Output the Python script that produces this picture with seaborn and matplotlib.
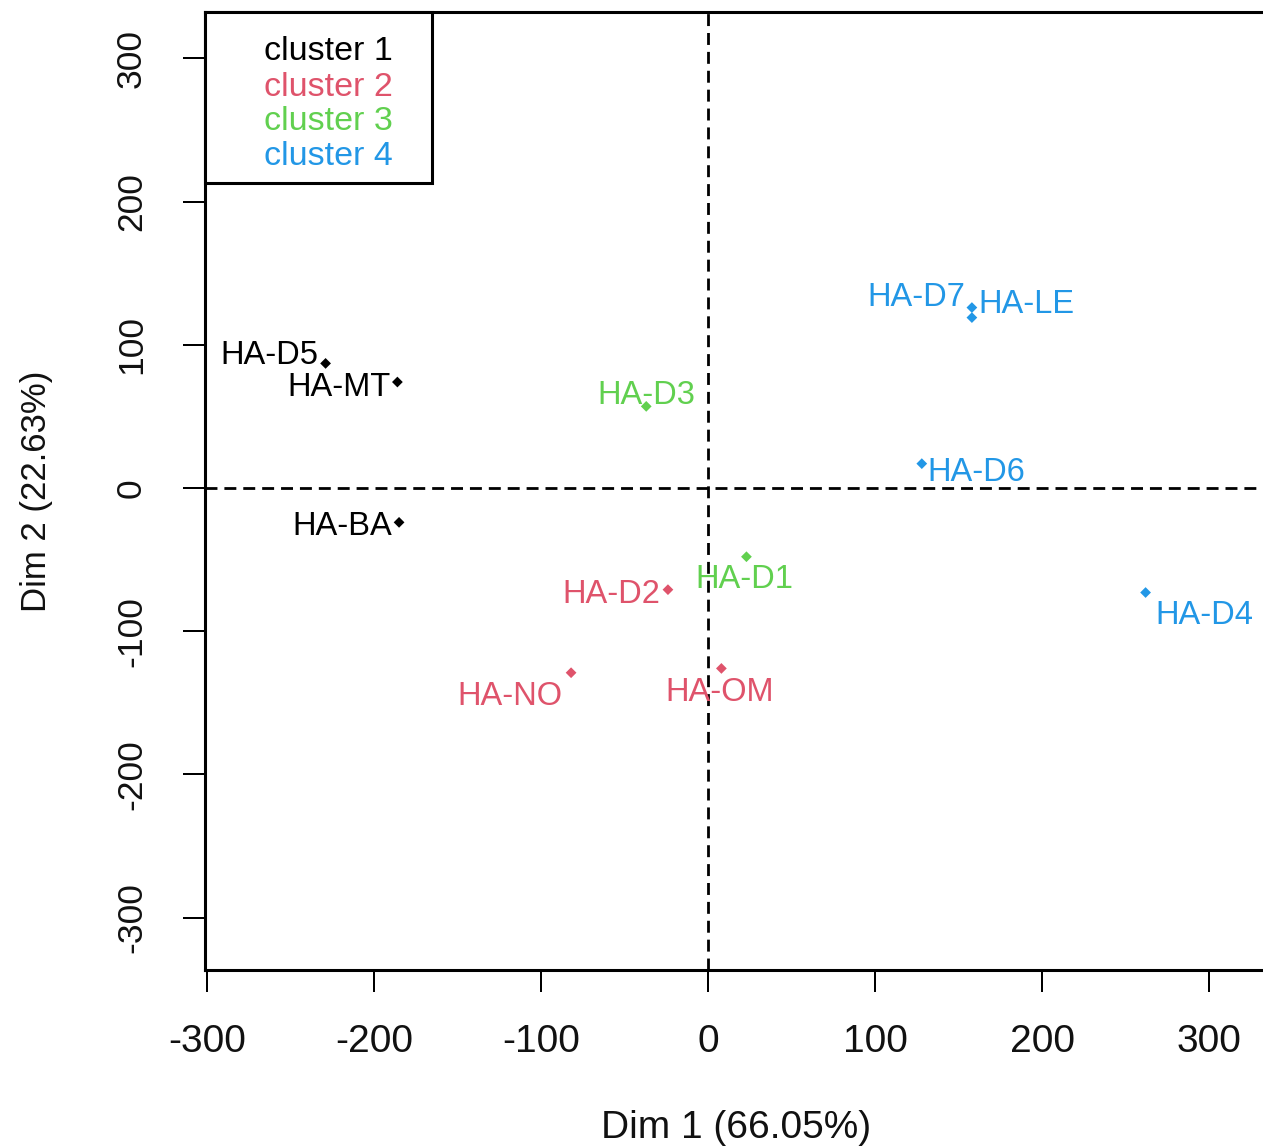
import matplotlib
matplotlib.use("Agg")
import matplotlib.pyplot as plt
import seaborn as sns
import pandas as pd
from matplotlib.patches import Rectangle

# ---- data ----
labels = ["HA-D5", "HA-MT", "HA-BA", "HA-D3", "HA-D1", "HA-D2", "HA-NO", "HA-OM",
          "HA-D7", "HA-LE", "HA-D6", "HA-D4"]
dim1 = [-229, -186, -185, -37, 23, -24, -82, 8, 158, 158, 128, 262]
dim2 = [87, 74, -24, 57, -48, -71, -129, -126, 126, 119, 17, -73]
cluster = ["cluster 1", "cluster 1", "cluster 1", "cluster 3", "cluster 3", "cluster 2",
           "cluster 2", "cluster 2", "cluster 4", "cluster 4", "cluster 4", "cluster 4"]
cluster_names = ["cluster 1", "cluster 2", "cluster 3", "cluster 4"]
x_ticks = [-300, -200, -100, 0, 100, 200, 300]
y_ticks = [-300, -200, -100, 0, 100, 200, 300]
x_label = "Dim 1 (66.05%)"
y_label = "Dim 2 (22.63%)"

# ---- style ----
palette = {"cluster 1": "#000000", "cluster 2": "#DF536B",
           "cluster 3": "#61D04F", "cluster 4": "#2297E6"}
# label offsets in pixels (dx, dy of visual text center), and horizontal alignment
label_pos = {
    "HA-D5": (-7, 11, "right"), "HA-MT": (-7, -2, "right"), "HA-BA": (-7, -1, "right"),
    "HA-D3": (0, 14, "center"), "HA-D1": (-2, -20, "center"), "HA-D2": (-8, -2, "right"),
    "HA-NO": (-9, -21, "right"), "HA-OM": (-2, -21, "center"), "HA-D7": (-7, 13, "right"),
    "HA-LE": (6, 16, "left"), "HA-D6": (6, -6, "left"), "HA-D4": (10, -20, "left"),
}

df = pd.DataFrame({"label": labels, "dim1": dim1, "dim2": dim2, "cluster": cluster})

sns.set_theme(style="white")
plt.rcParams["font.family"] = ["Liberation Sans", "DejaVu Sans"]

DPI = 100
W, H = 1263, 1146
fig = plt.figure(figsize=(W / DPI, H / DPI), dpi=DPI)
PX = 72.0 / DPI  # points per pixel

ax_left, ax_bottom, ax_w, ax_h = 205, 176, 1063, 958
ax = fig.add_axes([ax_left / W, ax_bottom / H, ax_w / W, ax_h / H])

ax.axhline(0, color="black", lw=2.0, ls=(0, (4.3, 2.5)), zorder=1)
ax.axvline(0, color="black", lw=2.0, ls=(0, (4.3, 2.5)), zorder=1)

sns.scatterplot(data=df, x="dim1", y="dim2", hue="cluster", hue_order=cluster_names,
                palette=palette, marker="D", s=30, edgecolor="none", legend=False,
                ax=ax, zorder=3)

fs_lab = 23.5
em_px = fs_lab / PX
for lab, x, y, c in zip(labels, dim1, dim2, cluster):
    dx, dy, ha = label_pos[lab]
    ax.annotate(lab, (x, y), xytext=(dx * PX, (dy - 0.358 * em_px) * PX),
                textcoords="offset points", ha=ha, va="baseline",
                fontsize=fs_lab, color=palette[c], zorder=4)

ax.set_xlim(-301.2, 335.3)
ax.set_ylim(-336.6, 332.4)
ax.set_xticks(x_ticks)
ax.set_yticks(y_ticks)
ax.set_xticklabels([str(v) for v in x_ticks], fontsize=28)
ax.set_yticklabels([str(v) for v in y_ticks], fontsize=25.5, rotation=90, va="center")
ax.tick_params(axis="both", direction="out", length=22 * PX, width=2 * PX, color="black",
               labelcolor="#111111")
ax.tick_params(axis="x", pad=32 * PX, bottom=True)
ax.tick_params(axis="y", pad=35 * PX, left=True)

for sp in ax.spines.values():
    sp.set_linewidth(2.2)
    sp.set_color("black")

ax.set_xlabel(x_label, fontsize=28, color="#111111")
ax.set_ylabel(y_label, fontsize=25, color="#111111")
ax.xaxis.set_label_coords(0.5, (970 - 1110) / ax_h)
ax.yaxis.set_label_coords((53 - 205) / ax_w, 0.5)

# legend box (R-style text legend)
box_w, box_h = 227, 171
ax.add_patch(Rectangle((0, 1 - box_h / ax_h), box_w / ax_w, box_h / ax_h,
                       transform=ax.transAxes, fill=True, facecolor="white",
                       edgecolor="black", lw=2.2, clip_on=False, zorder=6))
leg_centers = [48, 84, 118, 153]
for name, yc in zip(cluster_names, leg_centers):
    ax.text((264 - 205) / ax_w, (970 - yc) / ax_h, name, transform=ax.transAxes,
            fontsize=24.5, color=palette[name], ha="left", va="center_baseline",
            zorder=7)

fig.savefig("out.png", dpi=DPI)
